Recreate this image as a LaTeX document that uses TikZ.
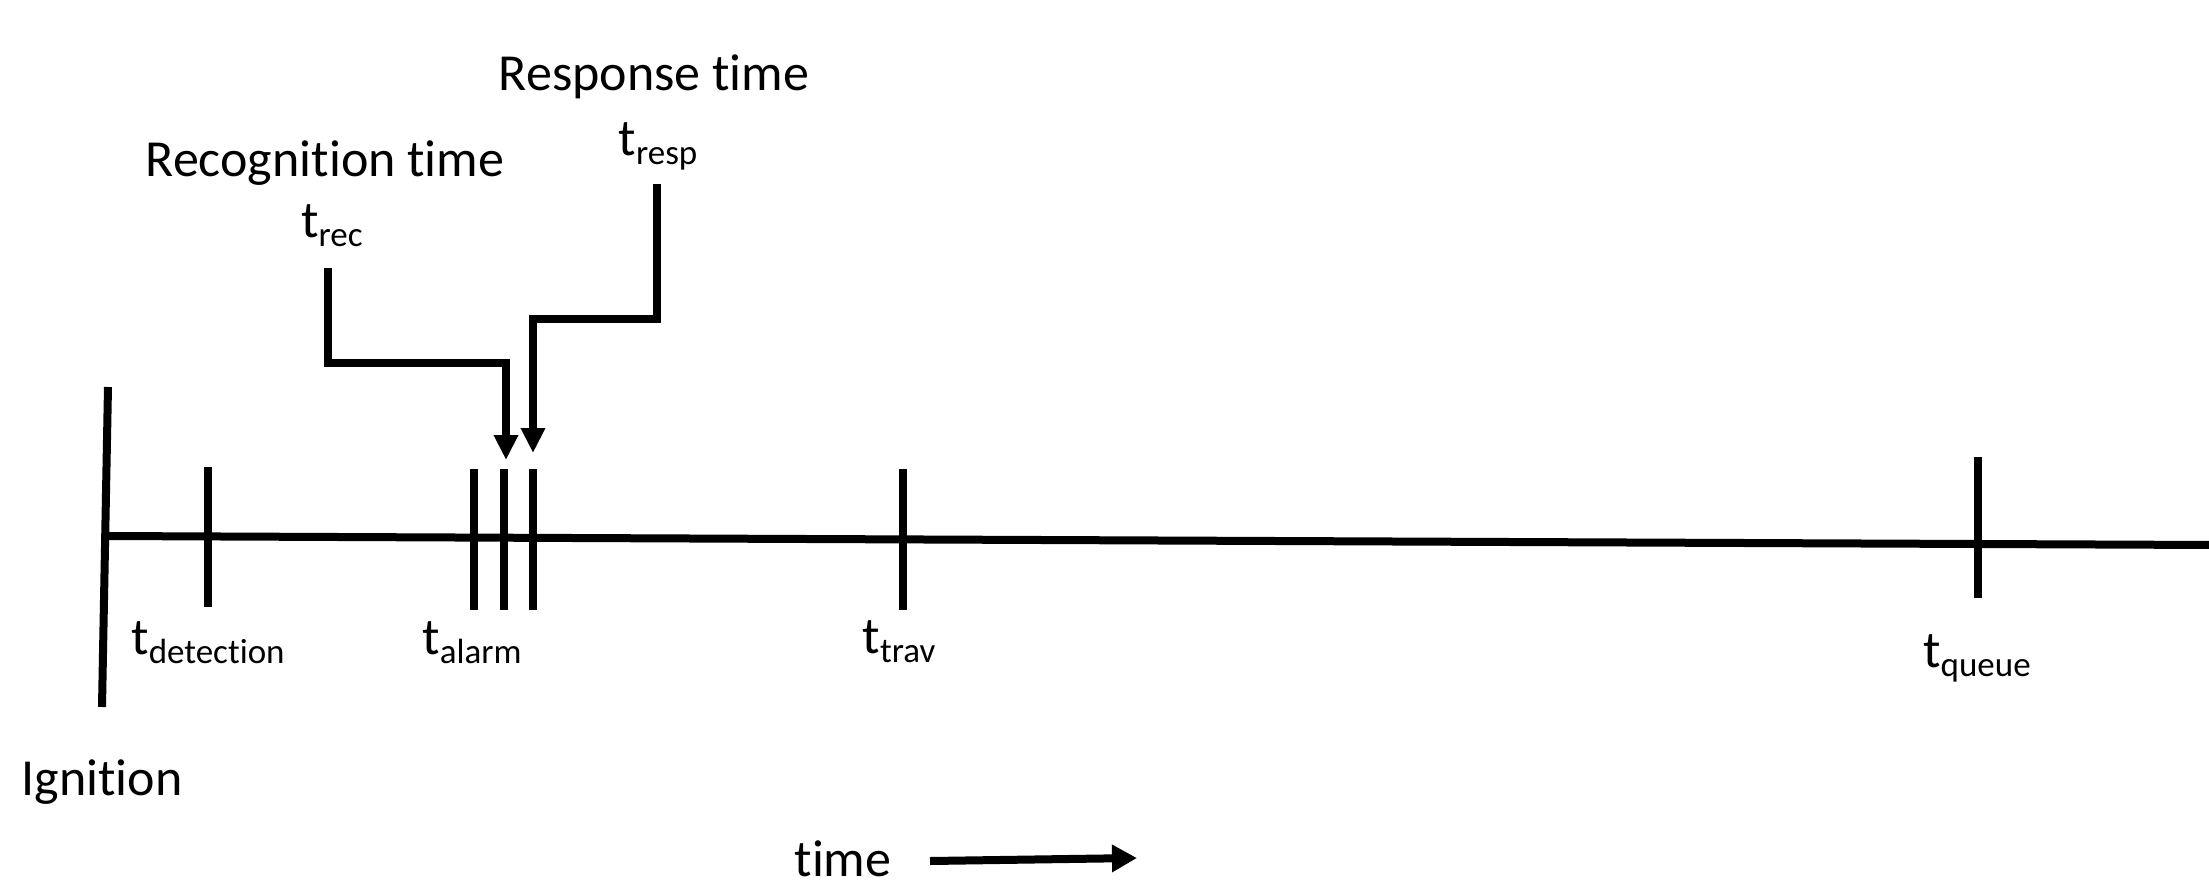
\documentclass[tikz,border=0pt]{standalone}
\usepackage{fontspec}
\setmainfont[Ligatures=NoCommon]{Carlito}
\usetikzlibrary{arrows.meta}
\newcommand{\tsb}[1]{t\raisebox{-4.5pt}{\fontsize{17.5}{20}\selectfont #1}}
\begin{document}
\begin{tikzpicture}[x=0.5pt,y=-0.5pt,
  thick line/.style={line width=4pt,black},
  tipped/.style={thick line,-{Triangle[length=12.5pt,width=11.5pt]}},
  lbl/.style={font=\fontsize{26}{30}\selectfont, inner sep=0pt, anchor=base},
]
\useasboundingbox (0,0) rectangle (2209,884);
% timeline
\coordinate (L0) at (106,536);
\coordinate (L1) at (2215,545);
\draw[thick line] (L0) -- (L1);
% ignition
\coordinate (ig1) at (108,387);
\coordinate (ig2) at (102,707);
\draw[thick line] (ig1) -- (ig2);
% ticks
\foreach \n/\x/\a/\b in {det/208/467/607, al1/474/469/610, al2/504/469/610, al3/533/469/610, trv/903/469/610, que/1978/457/598}{
  \coordinate (\n top) at (\x,\a);
  \coordinate (\n bot) at (\x,\b);
  \draw[thick line] (\n top) -- (\n bot);
}
% labels
\node[lbl] (rectime) at (325,176) {Recognition time};
\node[lbl] (resptime) at (654,90) {Response time};
\node[lbl] (trec) at (332,237) {\tsb{rec}};
\node[lbl] (tresp) at (658,155) {\tsb{resp}};
\node[lbl] (tdet) at (208,654) {\tsb{detection}};
\node[lbl] (talarm) at (472,654) {\tsb{alarm}};
\node[lbl] (ttrav) at (899,653) {\tsb{trav}};
\node[lbl] (tqueue) at (1977,667) {\tsb{queue}};
\node[lbl] (ign) at (102,795) {Ignition};
\node[lbl] (timel) at (843,876) {time};
% arrows
\coordinate (recS) at (328,268);
\coordinate (recT) at (506,460);
\draw[tipped] (recS) -- (328,363) -- (506,363) -- (recT);
\coordinate (respS) at (657,184);
\coordinate (respT) at (533,453);
\draw[tipped] (respS) -- (657,319) -- (533,319) -- (respT);
\coordinate (timeS) at (930,861);
\coordinate (timeE) at (1137,858);
\draw[thick line,-{Triangle[length=12.5pt,width=13pt]}] (timeS) -- (timeE);
\end{tikzpicture}
\end{document}
